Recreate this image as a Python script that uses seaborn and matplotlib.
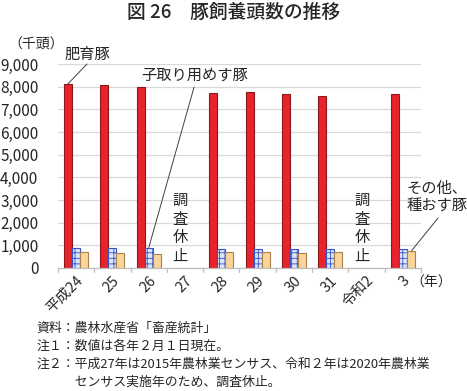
import numpy as np
import pandas as pd
import matplotlib
matplotlib.use("Agg")
import matplotlib.pyplot as plt
import seaborn as sns

years = ["平成24", "25", "26", "27", "28", "29", "30", "31", "令和2", "3"]
fattening = [8110, 8080, 7990, np.nan, 7730, 7770, 7655, 7570, np.nan, 7655]
breeding_sows = [885, 885, 885, np.nan, 840, 825, 825, 830, np.nan, 825]
others = [690, 665, 620, np.nan, 720, 690, 680, 690, np.nan, 765]
series = ["肥育豚", "子取り用めす豚", "その他、種おす豚"]

sns.set_theme(style="white")
plt.rcParams["font.family"] = ["Noto Sans CJK JP", "DejaVu Sans"]
plt.rcParams["hatch.linewidth"] = 0.6

df = pd.DataFrame({
    "year": years * 3,
    "value": fattening + breeding_sows + others,
    "series": [series[0]] * 10 + [series[1]] * 10 + [series[2]] * 10,
})

fig = plt.figure(figsize=(4.67, 3.91), dpi=100)
ax = fig.add_axes([0.124, 0.3146, 0.7775, 0.5217])

face = ["#E8232B", "#DCE4F7", "#FAD59A"]
edge = ["#8A1A1A", "#3454C4", "#A8804E"]
sns.barplot(data=df, x="year", y="value", hue="series", order=years,
            hue_order=series, palette=face, width=0.66, ax=ax,
            legend=False, saturation=1, linewidth=0.7, edgecolor="none")
for i, cont in enumerate(ax.containers):
    for p in cont.patches:
        p.set_edgecolor(edge[i])
        p.set_linewidth(0.8)
        if i == 1:
            p.set_hatch("+++")

ax.set_ylim(0, 9000)
ax.set_xlim(-0.5, 9.5)
ax.set_yticks(np.arange(0, 9001, 1000))
ax.set_yticklabels([f"{v:,}" for v in range(0, 9001, 1000)], fontsize=11)
ax.yaxis.grid(True, color="#D9D9D9", linewidth=0.9)
ax.set_axisbelow(True)
for s in ["top", "right", "left"]:
    ax.spines[s].set_visible(False)
ax.spines["bottom"].set_color("#BFBFBF")
ax.spines["bottom"].set_linewidth(0.9)
ax.tick_params(axis="y", length=0, pad=14)
ax.set_xticks(range(len(years)))
ax.set_xticklabels(years, rotation=45, ha="right", va="top",
                   rotation_mode="anchor", fontsize=10.5)
ax.tick_params(axis="x", length=0, pad=4)
for b in np.arange(-0.5, 10, 1.0):
    ax.plot([b, b], [0, -160], color="#BFBFBF", lw=0.9, clip_on=False)
ax.set_xlabel("")
ax.set_ylabel("")

# annotations pointing to bars
red0 = ax.containers[0].patches[0]
blue2 = ax.containers[1].patches[2]
orng_last = ax.containers[2].patches[-1]

def leader(bar, frac, start):
    ax.annotate("", xy=(bar.get_x() + bar.get_width() * frac, bar.get_height()),
                xytext=start, textcoords="axes fraction",
                arrowprops=dict(arrowstyle="-", color="#404040", lw=0.7,
                                shrinkA=0, shrinkB=0))

leader(red0, 0.45, (0.08, 1.0))
leader(blue2, 0.5, (0.375, 0.887))
leader(orng_last, 0.6, (1.047, 0.245))

ax.text(0.08, 1.045, "肥育豚", transform=ax.transAxes, fontsize=11,
        ha="center", va="center")
ax.text(0.377, 0.943, "子取り用めす豚", transform=ax.transAxes, fontsize=11,
        ha="center", va="center")
ax.text(1.044, 0.346, "その他、\n種おす豚", transform=ax.transAxes, fontsize=11,
        ha="center", va="center", linespacing=1.1)

for idx in [years.index("27"), years.index("令和2")]:
    ax.text(idx - 0.13, 0.015, "調\n査\n休\n止", transform=ax.get_xaxis_transform(),
            ha="center", va="bottom", fontsize=11, linespacing=1.12)

fig.text(0.017, 0.885, "（千頭）", fontsize=10, ha="left", va="center")
fig.text(0.5, 0.967, "図 26　豚飼養頭数の推移", fontsize=13.5, ha="center",
         va="center", fontweight="medium")
fig.text(0.878, 0.278, "（年）", fontsize=10, ha="left", va="center")

notes = ["資料：農林水産省「畜産統計」",
         "注１：数値は各年２月１日現在。",
         "注２：平成27年は2015年農林業センサス、令和２年は2020年農林業",
         "　　　センサス実施年のため、調査休止。"]
for k, t in enumerate(notes):
    fig.text(0.078, 1 - (328 + 18 * k) / 391, t, fontsize=9.3, ha="left", va="center")

fig.savefig("out.png", dpi=100)
